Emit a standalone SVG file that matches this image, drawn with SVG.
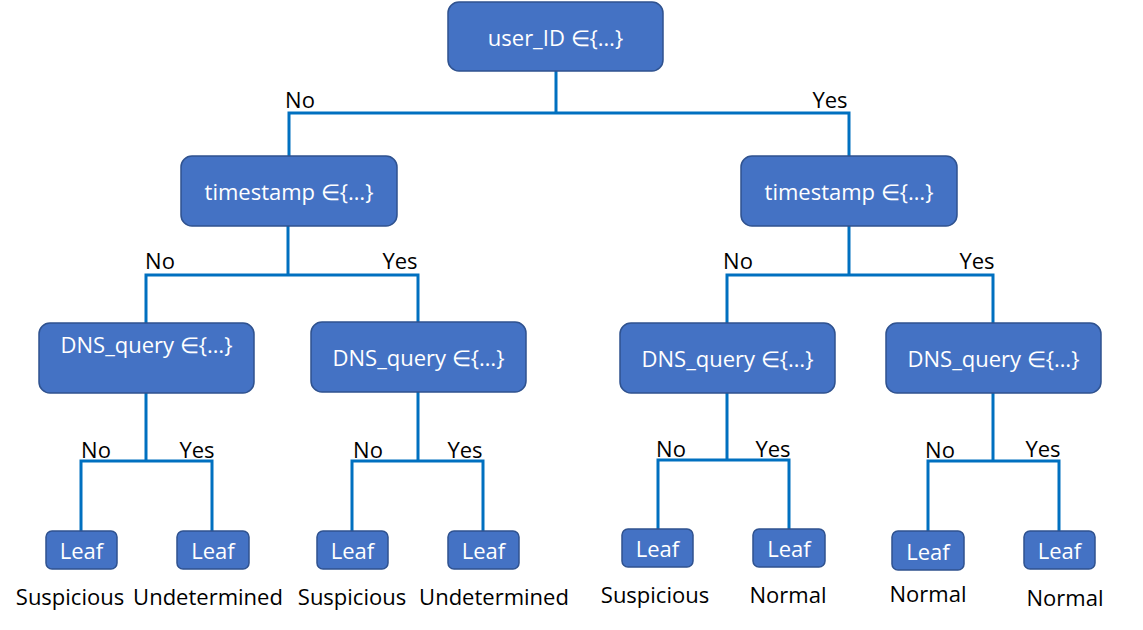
<svg xmlns="http://www.w3.org/2000/svg" width="1143" height="630" viewBox="0 0 1143 630">
<style>
.box{fill:#4472C4;stroke:#2F528F;stroke-width:1.5}
.bt{fill:#ffffff;font-family:"Open Sans","Noto Sans",sans-serif;font-size:22px;text-anchor:middle;dominant-baseline:central}
.lbl{fill:#000000;font-family:"Open Sans","Noto Sans",sans-serif;font-size:22px;text-anchor:middle;dominant-baseline:central}
.ln{fill:none;stroke:#0070C0;stroke-width:3}
</style>
<rect width="1143" height="630" fill="#ffffff"/>
<g id="connectors">
<path class="ln" d="M556 71V113M289 156V113H849V156"/>
<path class="ln" d="M288 226V275M146 323V275H418V322"/>
<path class="ln" d="M849 226V275M727 323V275H993V323"/>
<path class="ln" d="M146 393V461M81 531V461H212V531"/>
<path class="ln" d="M418 392V461M352 531V461H483V531"/>
<path class="ln" d="M727 393V460M658 529V460H789V529"/>
<path class="ln" d="M993 393V461M928 531V461H1059V531"/>
</g>
<g id="edge-labels">
<text class="lbl" x="300" y="99">No</text>
<text class="lbl" x="830" y="99">Yes</text>
<text class="lbl" x="160" y="260">No</text>
<text class="lbl" x="400" y="260">Yes</text>
<text class="lbl" x="738" y="260">No</text>
<text class="lbl" x="977" y="260">Yes</text>
<text class="lbl" x="96" y="449">No</text>
<text class="lbl" x="197" y="449">Yes</text>
<text class="lbl" x="368" y="449">No</text>
<text class="lbl" x="465" y="449">Yes</text>
<text class="lbl" x="671" y="448">No</text>
<text class="lbl" x="773" y="448">Yes</text>
<text class="lbl" x="940" y="449">No</text>
<text class="lbl" x="1043" y="448">Yes</text>
</g>
<g id="root"><rect class="box" x="448" y="2" width="215" height="69" rx="11"/><text class="bt" x="555.5" y="37">user_ID ∈{…}</text></g>
<g id="ts-left"><rect class="box" x="181" y="156" width="216" height="70" rx="11"/><text class="bt" x="289" y="191">timestamp ∈{…}</text></g>
<g id="ts-right"><rect class="box" x="741" y="156" width="216" height="70" rx="11"/><text class="bt" x="849" y="191">timestamp ∈{…}</text></g>
<g id="dns-1"><rect class="box" x="39" y="323" width="215" height="70" rx="11"/><text class="bt" x="146.5" y="344">DNS_query ∈{…}</text></g>
<g id="dns-2"><rect class="box" x="311" y="322" width="215" height="70" rx="11"/><text class="bt" x="418.5" y="357">DNS_query ∈{…}</text></g>
<g id="dns-3"><rect class="box" x="620" y="323" width="215" height="70" rx="11"/><text class="bt" x="727.5" y="358">DNS_query ∈{…}</text></g>
<g id="dns-4"><rect class="box" x="886" y="323" width="215" height="70" rx="11"/><text class="bt" x="993.5" y="358">DNS_query ∈{…}</text></g>
<g id="leaf-1"><rect class="box" x="46" y="531" width="71" height="38" rx="6"/><text class="bt" x="81.5" y="550">Leaf</text><text class="lbl" x="70" y="596">Suspicious</text></g>
<g id="leaf-2"><rect class="box" x="177" y="531" width="72" height="38" rx="6"/><text class="bt" x="213" y="550">Leaf</text><text class="lbl" x="208" y="596">Undetermined</text></g>
<g id="leaf-3"><rect class="box" x="317" y="531" width="71" height="38" rx="6"/><text class="bt" x="352.5" y="550">Leaf</text><text class="lbl" x="352" y="596">Suspicious</text></g>
<g id="leaf-4"><rect class="box" x="448" y="531" width="71" height="38" rx="6"/><text class="bt" x="483.5" y="550">Leaf</text><text class="lbl" x="494" y="596">Undetermined</text></g>
<g id="leaf-5"><rect class="box" x="622" y="529" width="71" height="38" rx="6"/><text class="bt" x="657.5" y="548">Leaf</text><text class="lbl" x="655" y="594">Suspicious</text></g>
<g id="leaf-6"><rect class="box" x="753" y="529" width="72" height="38" rx="6"/><text class="bt" x="789" y="548">Leaf</text><text class="lbl" x="788" y="594">Normal</text></g>
<g id="leaf-7"><rect class="box" x="892" y="531" width="72" height="39" rx="6"/><text class="bt" x="928" y="550.5">Leaf</text><text class="lbl" x="928" y="593">Normal</text></g>
<g id="leaf-8"><rect class="box" x="1024" y="531" width="71" height="38" rx="6"/><text class="bt" x="1059.5" y="550">Leaf</text><text class="lbl" x="1065" y="597">Normal</text></g>
</svg>
